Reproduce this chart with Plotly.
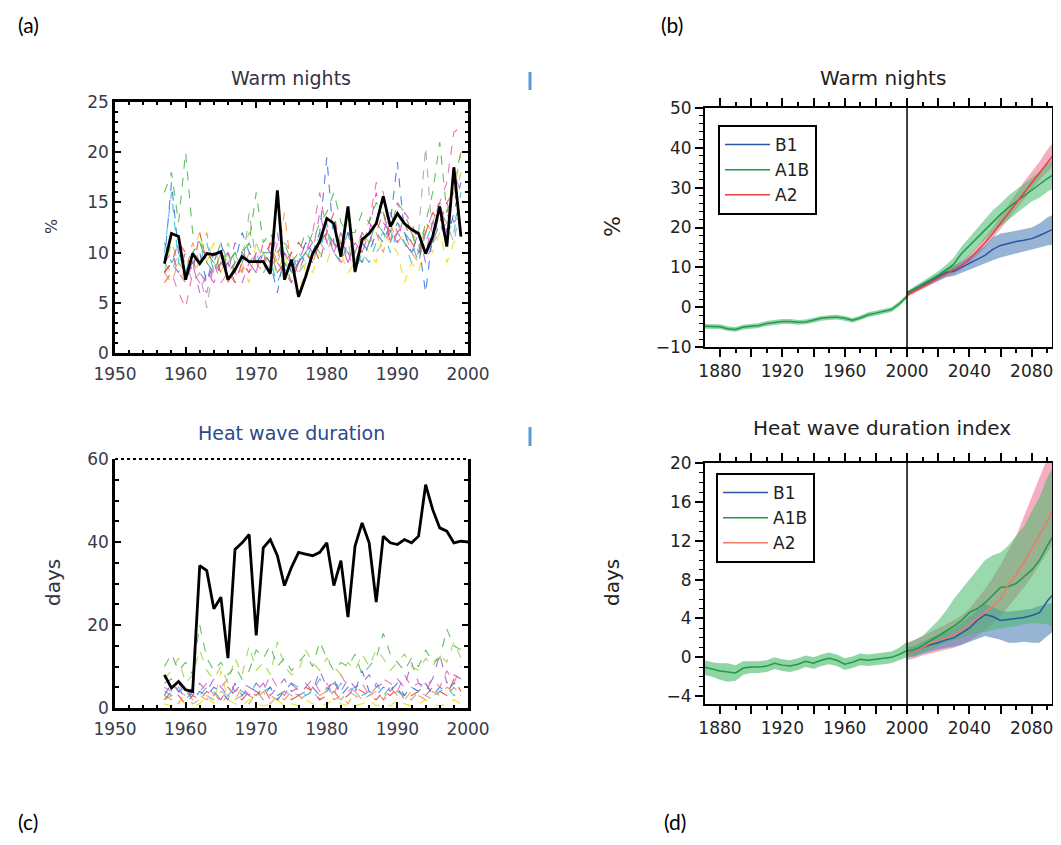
import plotly.graph_objects as go

# ---------------- data ----------------
# Panel (a): Warm nights (%), station series 1957-1999
years_a = list(range(1957, 2000))
warm_obs = [8.9, 11.9, 11.6, 7.3, 9.9, 8.9, 9.9, 9.8, 10.1, 7.3, 8.3, 9.6, 9.1, 9.1, 9.1, 7.9,
            16.2, 7.3, 9.3, 5.6, 7.6, 9.9, 11.1, 13.4, 12.9, 9.6, 14.6, 8.1, 11.3, 11.9, 12.9,
            15.6, 12.6, 13.9, 12.9, 12.3, 11.9, 9.9, 11.6, 14.6, 10.6, 18.5, 11.6]
a_green = [16, 18, 13, 20, 12, 11, 10, 9, 11, 9, 10, 10, 11, 16, 11, 12, 10, 11, 9, 10, 12, 11,
           13, 14, 16, 13, 12, 12, 14, 13, 15, 14, 12, 15, 14, 12, 10, 13, 16, 21, 14, 17, 20]
a_pink = [7, 8, 6, 4.5, 8, 7, 6, 9, 7, 8, 7, 9, 8, 10, 9, 8, 11, 10, 9, 8, 10, 12, 16, 12, 11, 9,
          10, 8, 12, 13, 17, 16, 11, 15, 13, 12, 10, 12, 14, 15, 17, 22, 22.5]
a_orange = [8, 7, 9, 8, 11, 9, 12, 8, 10, 7, 9, 8, 10, 9, 8, 11, 9, 14, 8, 9, 10, 9, 11, 12, 10,
            9, 11, 10, 9, 11, 12, 10, 13, 11, 12, 10, 9, 13, 12, 14, 13, 16, 20]
a_blue = [9, 17, 10, 8, 9, 10, 7, 9, 11, 8, 9, 12, 10, 9, 10, 9, 6, 10, 8, 9, 11, 10, 12, 19.5,
          11, 10, 12, 9, 11, 10, 12, 11, 13, 19, 12, 10, 11, 6, 12, 13, 11, 14, 17]
a_yellow = [7, 8, 9, 7, 10, 12, 9, 11, 8, 10, 8, 9, 7, 11, 10, 9, 8, 10, 7, 5.5, 9, 8, 10, 9, 11,
            10, 8, 9, 11, 10, 9, 12, 11, 10, 7, 9, 8, 11, 10, 12, 9, 11, 12]
a_purple = [8, 9, 8, 10, 9, 8, 7, 10, 9, 8, 11, 10, 9, 8, 10, 9, 12, 8, 10, 9, 10, 11, 9, 12, 10,
            11, 9, 10, 12, 11, 13, 12, 14, 12, 11, 10, 12, 9, 11, 13, 15, 13, 14]
a_cyan = [10, 16, 9, 8, 10, 9, 11, 8, 9, 10, 8, 10, 9, 10, 8, 9, 7, 9, 8, 10, 9, 11, 10, 13, 10,
          9, 11, 8, 10, 9, 11, 12, 10, 12, 11, 9, 10, 11, 13, 12, 14, 12, 16]
a_grey = [9, 8, 10, 9, 7, 8, 4.5, 9, 8, 9, 10, 8, 14, 9, 10, 8, 9, 11, 10, 8, 9, 10, 11, 10, 12,
          11, 10, 9, 11, 12, 10, 11, 12, 13, 11, 10, 12, 20.5, 11, 12, 13, 11, 15]
a_red = [8, 9, 11, 10, 8, 12, 9, 10, 8, 9, 7, 9, 8, 10, 9, 11, 8, 9, 10, 11, 10, 9, 11, 12, 14,
         10, 12, 11, 10, 13, 12, 14, 11, 12, 13, 11, 10, 12, 14, 13, 15, 16, 14]
a_magenta = [9, 10, 8, 7, 9, 6, 8, 7, 9, 10, 8, 7, 9, 8, 11, 10, 9, 8, 7, 9, 11, 10, 14, 11, 10,
             12, 9, 11, 10, 12, 16, 13, 12, 11, 14, 13, 11, 10, 13, 15, 12, 18, 16]
a_teal = [11, 9, 10, 8, 10, 11, 9, 8, 10, 9, 10, 9, 11, 9, 10, 10, 8, 9, 7, 9, 10, 12, 11, 12,
          11, 10, 12, 10, 9, 11, 13, 12, 11, 13, 12, 11, 9, 12, 11, 14, 12, 13, 15]
a_lime = [8, 11, 9, 10, 8, 9, 10, 9, 8, 11, 9, 10, 12, 11, 9, 10, 9, 10, 8, 8, 10, 9, 12, 11, 13,
          11, 10, 10, 12, 11, 13, 13, 12, 14, 13, 12, 11, 12, 13, 15, 14, 15, 18]

# Panel (c): Heat wave duration (days)
years_c = list(range(1957, 2001))
hw_obs = [8.0, 4.8, 6.4, 4.4, 4.0, 34.3, 33.1, 23.9, 26.7, 12.0, 38.2, 39.8, 41.8, 17.5, 38.6,
          40.6, 36.7, 29.5, 33.9, 37.5, 37.1, 36.7, 37.5, 39.8, 29.5, 35.5, 21.9, 39.0, 44.6,
          39.8, 25.5, 41.4, 39.8, 39.4, 40.6, 39.8, 41.4, 53.8, 47.8, 43.4, 42.6, 39.8, 40.2, 40.0]
c_green = [10, 13, 9, 11, 8, 20, 12, 9, 11, 8, 10, 7, 9, 14, 12, 15, 10, 12, 9, 11, 13, 10, 16,
           12, 9, 11, 10, 13, 8, 10, 12, 18, 13, 11, 9, 12, 10, 14, 11, 12, 19, 15, 14]
c_pink = [5, 4, 6, 3, 5, 4, 6, 3, 5, 7, 4, 5, 3, 6, 4, 8, 5, 3, 6, 4, 5, 7, 4, 6, 3, 8, 5, 4, 6,
          3, 5, 7, 6, 4, 8, 5, 6, 4, 7, 5, 9, 6, 10]
c_blue = [3, 6, 4, 5, 2, 4, 3, 5, 4, 2, 6, 3, 5, 4, 3, 5, 2, 4, 6, 3, 4, 5, 3, 4, 7, 3, 5, 4, 9,
          4, 3, 5, 4, 6, 3, 5, 4, 6, 3, 5, 4, 6, 5]
c_orange = [2, 3, 1, 4, 2, 3, 2, 4, 1, 3, 2, 5, 3, 2, 4, 1, 3, 2, 4, 3, 2, 5, 3, 4, 2, 3, 1, 4,
            2, 3, 4, 2, 5, 3, 2, 4, 3, 2, 4, 3, 5, 4, 3]
c_yellow = [1, 0.5, 2, 1, 0.5, 1, 3, 1, 9, 2, 1, 0.5, 2, 1, 0.5, 1, 2, 0.5, 1, 0.5, 2, 1, 0.5,
            1, 2, 1, 0.5, 0.5, 1, 2, 0.5, 1, 0.5, 2, 1, 0.5, 1, 2, 1, 0.5, 1, 2, 1]
c_purple = [6, 7, 4, 5, 3, 6, 4, 7, 5, 3, 4, 6, 5, 4, 6, 3, 5, 7, 4, 5, 6, 4, 9, 5, 6, 4, 7, 5,
            6, 8, 5, 6, 4, 7, 5, 11, 6, 5, 7, 13, 6, 8, 7]
c_cyan = [4, 3, 5, 2, 4, 3, 5, 4, 2, 3, 5, 4, 3, 6, 4, 5, 3, 4, 6, 5, 3, 4, 7, 5, 3, 6, 4, 5, 3,
          4, 6, 3, 5, 4, 3, 5, 4, 6, 3, 4, 5, 3, 4]
c_red = [2, 4, 3, 1, 3, 2, 4, 3, 2, 5, 3, 2, 4, 3, 5, 2, 3, 4, 2, 3, 5, 4, 2, 3, 4, 2, 3, 5, 4,
         3, 2, 4, 3, 5, 2, 3, 4, 3, 5, 4, 3, 7, 4]
c_green2 = [7, 9, 12, 6, 8, 14, 9, 7, 10, 6, 12, 8, 15, 9, 11, 8, 16, 10, 8, 9, 14, 11, 9, 12,
            10, 8, 11, 9, 13, 10, 14, 12, 9, 11, 13, 10, 9, 12, 10, 13, 11, 16, 12]
c_grey = [3, 2, 4, 3, 1, 2, 3, 2, 4, 3, 2, 3, 1, 4, 2, 3, 2, 4, 3, 2, 3, 4, 2, 5, 3, 2, 4, 3, 2,
          3, 4, 2, 3, 4, 3, 2, 4, 3, 2, 4, 3, 5, 3]

# Panels (b) and (d): model simulations
years_hist = list(range(1870, 2001, 5))
years_scen = list(range(2000, 2100, 5))

hist_b = [-4.8, -4.8, -4.9, -5.4, -5.6, -5.0, -4.8, -4.6, -4.1, -3.9, -3.6, -3.6, -3.8, -3.7,
          -3.3, -2.8, -2.6, -2.5, -2.8, -3.3, -2.7, -1.9, -1.5, -1.1, -0.6, 0.8, 2.7]
hist_b_lo = [-5.4, -5.4, -5.5, -6.0, -6.2, -5.6, -5.4, -5.2, -4.7, -4.5, -4.2, -4.2, -4.4, -4.3,
             -3.9, -3.4, -3.2, -3.1, -3.4, -3.9, -3.3, -2.5, -2.1, -1.7, -1.2, 0.2, 2.1]
hist_b_hi = [-4.2, -4.2, -4.3, -4.8, -5.0, -4.4, -4.2, -4.0, -3.5, -3.3, -3.0, -3.0, -3.2, -3.1,
             -2.7, -2.2, -2.0, -1.9, -2.2, -2.7, -2.1, -1.3, -0.9, -0.5, 0.0, 1.4, 3.3]
b1_b = [3.5, 4.5, 5.5, 6.5, 7.5, 8.7, 9.0, 10.0, 11.0, 12.0, 13.0, 14.5, 15.5, 16.0, 16.5, 16.8,
        17.2, 18.0, 19.0, 19.8]
b1_b_lo = [3.0, 4.0, 5.0, 5.8, 6.6, 7.5, 7.8, 8.6, 9.3, 10.2, 11.0, 11.8, 12.5, 13.0, 13.5, 14.0,
           14.5, 15.0, 15.5, 15.8]
b1_b_hi = [4.0, 5.0, 6.0, 7.2, 8.4, 9.8, 10.3, 11.4, 12.7, 14.0, 15.5, 17.5, 18.5, 18.8, 19.2,
           19.6, 20.0, 21.0, 22.5, 23.5]
a1b_b = [3.5, 4.6, 5.7, 6.8, 8.0, 9.3, 10.8, 13.5, 15.5, 17.5, 19.5, 21.5, 23.3, 25.0, 26.5,
         28.0, 29.5, 30.8, 32.3, 33.5]
a1b_b_lo = [3.0, 4.0, 5.0, 6.0, 7.0, 8.0, 9.3, 11.5, 13.0, 15.0, 17.0, 18.8, 20.5, 22.0, 23.5,
            25.0, 26.5, 27.5, 29.0, 30.0]
a1b_b_hi = [4.0, 5.2, 6.4, 7.6, 9.0, 10.6, 12.5, 15.2, 17.5, 19.8, 22.0, 24.3, 26.0, 28.0, 29.5,
            31.0, 32.5, 34.0, 36.0, 37.5]
a2_b = [3.0, 4.0, 5.0, 6.2, 7.3, 8.4, 9.3, 10.5, 12.0, 14.0, 16.2, 18.5, 21.0, 23.5, 26.0, 28.5,
        31.0, 33.5, 36.0, 38.8]
a2_b_lo = [2.5, 3.5, 4.5, 5.6, 6.6, 7.6, 8.4, 9.5, 11.0, 13.0, 15.0, 17.2, 19.5, 22.0, 24.5,
           27.0, 29.5, 32.0, 34.0, 36.0]
a2_b_hi = [3.5, 4.5, 5.6, 6.8, 8.0, 9.2, 10.2, 11.6, 13.2, 15.2, 17.6, 20.0, 22.8, 25.5, 28.5,
           31.5, 34.0, 36.5, 39.5, 42.0]

hist_d = [-1.0, -1.2, -1.4, -1.5, -1.6, -1.1, -1.0, -1.0, -0.9, -0.6, -0.8, -0.9, -0.7, -0.4,
          -0.6, -0.3, -0.1, -0.3, -0.7, -0.5, -0.2, -0.3, -0.2, -0.1, 0.0, 0.3, 0.7]
hist_d_lo = [-1.8, -2.0, -2.3, -2.5, -2.4, -1.8, -1.6, -1.6, -1.5, -1.2, -1.4, -1.5, -1.3, -1.0,
             -1.2, -0.9, -0.7, -0.9, -1.3, -1.1, -0.8, -0.9, -0.8, -0.7, -0.6, -0.3, 0.0]
hist_d_hi = [-0.3, -0.5, -0.6, -0.6, -0.8, -0.4, -0.4, -0.4, -0.3, 0.0, -0.2, -0.3, -0.1, 0.2,
             0.0, 0.3, 0.5, 0.3, -0.1, 0.1, 0.4, 0.3, 0.4, 0.5, 0.6, 1.0, 1.6]
b1_d = [0.5, 0.6, 1.0, 1.3, 1.5, 1.8, 2.0, 2.5, 3.0, 3.8, 4.4, 4.2, 3.8, 3.9, 4.0, 4.1, 4.3, 4.6,
        5.8, 6.7]
b1_d_lo = [0.0, 0.1, 0.4, 0.6, 0.8, 1.0, 1.1, 1.3, 1.6, 1.9, 2.2, 2.0, 1.8, 1.5, 1.5, 1.6, 1.5,
           1.5, 2.2, 2.8]
b1_d_hi = [1.0, 1.2, 1.6, 2.0, 2.3, 2.6, 3.0, 3.5, 4.2, 4.8, 5.5, 5.2, 4.8, 4.7, 4.8, 4.9, 5.0,
           5.3, 5.5, 5.6]
a1b_d = [0.6, 0.8, 1.2, 1.7, 2.2, 2.7, 3.2, 3.8, 4.6, 5.0, 5.6, 6.4, 7.2, 7.3, 7.6, 8.3, 9.0,
         10.0, 11.5, 12.8]
a1b_d_lo = [0.0, 0.2, 0.5, 0.8, 1.2, 1.5, 1.8, 2.0, 2.3, 2.5, 2.6, 2.8, 3.0, 3.1, 3.2, 3.4, 3.5,
            3.5, 3.4, 3.0]
a1b_d_hi = [1.4, 1.8, 2.2, 3.0, 3.8, 4.8, 6.0, 7.0, 8.0, 9.0, 10.0, 10.5, 10.8, 11.5, 12.5, 13.5,
            15.0, 16.5, 18.5, 20.0]
a2_d = [0.5, 0.6, 1.0, 1.5, 1.8, 2.0, 2.3, 2.8, 3.4, 4.0, 4.6, 5.3, 6.0, 7.5, 8.5, 9.8, 11.2,
        12.5, 14.0, 15.7]
a2_d_lo = [-0.3, -0.1, 0.2, 0.4, 0.6, 0.8, 1.0, 1.3, 1.7, 2.2, 2.8, 3.5, 4.2, 5.2, 6.2, 7.2, 8.3,
           9.5, 10.8, 12.0]
a2_d_hi = [1.5, 1.8, 2.2, 2.6, 3.0, 3.4, 3.8, 4.3, 5.0, 6.0, 7.0, 8.2, 9.5, 11.0, 12.5, 14.5,
           16.5, 18.5, 20.5, 21.5]

scenario_names = ["B1", "A1B", "A2"]

# ---------------- styling ----------------
# the page body has an 8 px margin on every side: the figure is sized to fit inside it
OFF = 8
W, H = 1061 - 2 * OFF, 845 - 2 * OFF


def px(x):
    return (x - OFF) / W


def py(y):
    return 1 - (y - OFF) / H


FONT = "DejaVu Sans"
station_colors = {
    "green": "rgba(70,180,70,0.85)", "pink": "rgba(240,90,170,0.85)",
    "orange": "rgba(250,140,50,0.85)", "blue": "rgba(50,110,220,0.85)",
    "yellow": "rgba(240,220,20,0.9)", "purple": "rgba(150,90,200,0.85)",
    "cyan": "rgba(30,190,220,0.85)", "grey": "rgba(160,160,160,0.85)",
    "red": "rgba(230,60,60,0.85)", "magenta": "rgba(220,60,200,0.8)",
    "teal": "rgba(40,160,150,0.8)", "lime": "rgba(150,210,60,0.85)",
}

fig = go.Figure()

stations_a = [("grey", a_grey), ("yellow", a_yellow), ("orange", a_orange), ("cyan", a_cyan),
              ("teal", a_teal), ("lime", a_lime), ("purple", a_purple), ("red", a_red),
              ("magenta", a_magenta), ("blue", a_blue), ("pink", a_pink), ("green", a_green)]
for cname, vals in stations_a:
    fig.add_trace(go.Scatter(x=years_a, y=vals, mode="lines", xaxis="x", yaxis="y",
                             line=dict(color=station_colors[cname], width=1.1, dash="dash"),
                             showlegend=False, hoverinfo="skip"))
fig.add_trace(go.Scatter(x=years_a, y=warm_obs, mode="lines", xaxis="x", yaxis="y",
                         line=dict(color="black", width=2.8), showlegend=False))

stations_c = [("grey", c_grey), ("red", c_red), ("orange", c_orange), ("yellow", c_yellow),
              ("cyan", c_cyan), ("blue", c_blue), ("purple", c_purple), ("pink", c_pink),
              ("lime", c_green2), ("green", c_green)]
for cname, vals in stations_c:
    fig.add_trace(go.Scatter(x=years_a, y=vals, mode="lines", xaxis="x3", yaxis="y3",
                             line=dict(color=station_colors[cname], width=1.1, dash="dash"),
                             showlegend=False, hoverinfo="skip"))
fig.add_trace(go.Scatter(x=years_c, y=hw_obs, mode="lines", xaxis="x3", yaxis="y3",
                         line=dict(color="black", width=2.8), showlegend=False))

band_fill = {"B1": "rgba(95,140,190,0.65)", "A1B": "rgba(70,185,105,0.55)",
             "A2": "rgba(240,130,160,0.65)"}
line_col = {"B1": "#2d55a8", "A1B": "#1f9a48", "A2": "#e8423c"}


def add_band(xs, lo, hi, fill, xa, ya):
    fig.add_trace(go.Scatter(x=xs + xs[::-1], y=hi + lo[::-1], mode="lines", fill="toself",
                             fillcolor=fill, line=dict(width=0), xaxis=xa, yaxis=ya,
                             showlegend=False, hoverinfo="skip"))


# panel (b)
add_band(years_hist, hist_b_lo, hist_b_hi, "rgba(70,185,105,0.6)", "x2", "y2")
add_band(years_scen, a2_b_lo, a2_b_hi, band_fill["A2"], "x2", "y2")
add_band(years_scen, b1_b_lo, b1_b_hi, band_fill["B1"], "x2", "y2")
add_band(years_scen, a1b_b_lo, a1b_b_hi, band_fill["A1B"], "x2", "y2")
fig.add_trace(go.Scatter(x=years_hist, y=hist_b, mode="lines", xaxis="x2", yaxis="y2",
                         line=dict(color=line_col["A1B"], width=1.5), showlegend=False))
for nm, vals in zip(scenario_names, [b1_b, a1b_b, a2_b]):
    fig.add_trace(go.Scatter(x=years_scen, y=vals, mode="lines", name=nm, xaxis="x2", yaxis="y2",
                             line=dict(color=line_col[nm], width=1.5), legend="legend"))

# panel (d)
add_band(years_hist, hist_d_lo, hist_d_hi, "rgba(70,185,105,0.6)", "x4", "y4")
add_band(years_scen, a2_d_lo, a2_d_hi, band_fill["A2"], "x4", "y4")
add_band(years_scen, b1_d_lo, b1_d_hi, band_fill["B1"], "x4", "y4")
add_band(years_scen, a1b_d_lo, a1b_d_hi, band_fill["A1B"], "x4", "y4")
fig.add_trace(go.Scatter(x=years_hist, y=hist_d, mode="lines", xaxis="x4", yaxis="y4",
                         line=dict(color=line_col["A1B"], width=1.5), showlegend=False))
d_line_col = {"B1": "#2d55a8", "A1B": "#1f9a48", "A2": "#f07a66"}
for nm, vals in zip(scenario_names, [b1_d, a1b_d, a2_d]):
    fig.add_trace(go.Scatter(x=years_scen, y=vals, mode="lines", name=nm, xaxis="x4", yaxis="y4",
                             line=dict(color=d_line_col[nm], width=1.5),
                             legend="legend2"))

# ---------------- axes ----------------
left_tickfont = dict(family=FONT, size=17, color="#3a3a48")
right_tickfont = dict(family=FONT, size=17, color="#222222")


def left_x(domain, anchor, mirror=True):
    return dict(domain=domain, anchor=anchor, range=[1950, 2000], tick0=1950, dtick=10,
                ticks="inside", ticklen=6, tickwidth=2, tickcolor="black",
                showline=True, linewidth=2.5, linecolor="black",
                mirror="allticks" if mirror else False, automargin=False,
                minor=dict(ticks="inside", ticklen=3, dtick=2, tickwidth=1.5, tickcolor="black"),
                showgrid=False, zeroline=False, tickfont=left_tickfont, ticklabelstandoff=4)


def right_x(domain, anchor):
    return dict(domain=domain, anchor=anchor, range=[1870.4, 2093.0],
                tickvals=list(range(1880, 2100, 20)),
                ticktext=["1880", "", "1920", "", "1960", "", "2000", "", "2040", "", "2080"],
                ticks="outside", ticklen=8, tickwidth=1.5, tickcolor="black",
                showline=True, linewidth=2, linecolor="black", mirror="allticks",
                automargin=False, ticklabeloverflow="allow",
                minor=dict(ticks="outside", ticklen=4, dtick=10, tickwidth=1.5,
                           tickcolor="black"),
                showgrid=False, zeroline=False, tickfont=right_tickfont)


legend_style = dict(xanchor="left", yanchor="top", bgcolor="white", bordercolor="black",
                    borderwidth=2, tracegroupgap=0, itemwidth=45,
                    font=dict(family=FONT, size=17, color="#222222"))

fig.update_layout(
    template="none",
    width=W, height=H, margin=dict(l=0, r=0, t=0, b=0, pad=0), autosize=False,
    paper_bgcolor="white", plot_bgcolor="white",
    xaxis=left_x([px(115), px(468)], "y"),
    yaxis=dict(domain=[py(353), py(102)], anchor="x", range=[0, 25], dtick=5,
               ticks="inside", ticklen=6, tickwidth=2, tickcolor="black",
               showline=True, linewidth=2.5, linecolor="black", mirror="allticks",
               automargin=False,
               minor=dict(ticks="inside", ticklen=3, dtick=1, tickwidth=1.5, tickcolor="black"),
               showgrid=False, zeroline=False, tickfont=left_tickfont),
    xaxis3=left_x([px(115), px(468)], "y3", mirror=False),
    yaxis3=dict(domain=[py(708), py(459)], anchor="x3", range=[0, 60], dtick=20,
                ticks="inside", ticklen=6, tickwidth=2, tickcolor="black",
                showline=True, linewidth=2.5, linecolor="black", mirror="allticks",
                automargin=False,
                minor=dict(ticks="inside", ticklen=4, dtick=5, tickwidth=1.5, tickcolor="black"),
                showgrid=False, zeroline=False, tickfont=left_tickfont),
    xaxis2=right_x([px(705), px(1052)], "y2"),
    yaxis2=dict(domain=[py(347), py(108)], anchor="x2", range=[-10, 50], dtick=10,
                ticks="outside", ticklen=8, tickwidth=1.5, tickcolor="black",
                showline=True, linewidth=2, linecolor="black", mirror="allticks",
                automargin=False,
                minor=dict(ticks="outside", ticklen=4, dtick=2, tickwidth=1.2,
                           tickcolor="black"),
                showgrid=False, zeroline=False, tickfont=right_tickfont),
    xaxis4=right_x([px(705), px(1052)], "y4"),
    yaxis4=dict(domain=[py(704), py(463)], anchor="x4", range=[-4.8, 20], tick0=0, dtick=4,
                ticks="outside", ticklen=8, tickwidth=1.5, tickcolor="black",
                showline=True, linewidth=2, linecolor="black", mirror="allticks",
                automargin=False,
                minor=dict(ticks="outside", ticklen=4, dtick=1, tickwidth=1.2,
                           tickcolor="black"),
                showgrid=False, zeroline=False, tickfont=right_tickfont),
    legend=dict(x=px(718), y=py(125), **legend_style),
    legend2=dict(x=px(716), y=py(473), **legend_style),
)

# ---------------- shapes ----------------
shapes = [
    dict(type="line", xref="x2", yref="y2 domain", x0=2000, x1=2000, y0=0, y1=1,
         line=dict(color="black", width=1.5)),
    dict(type="line", xref="x4", yref="y4 domain", x0=2000, x1=2000, y0=0, y1=1,
         line=dict(color="black", width=1.5)),
    dict(type="line", xref="x3 domain", yref="y3 domain", x0=0, x1=1, y0=1, y1=1,
         line=dict(color="black", width=2, dash="dot")),
    dict(type="line", xref="paper", yref="paper", x0=px(530), x1=px(530), y0=py(72), y1=py(90),
         line=dict(color="#5a9ad8", width=3)),
    dict(type="line", xref="paper", yref="paper", x0=px(530), x1=px(530), y0=py(427),
         y1=py(446), line=dict(color="#5a9ad8", width=3)),
]
fig.update_layout(shapes=shapes)


# ---------------- annotations ----------------
def ann(text, x, y, size, color="#222222", family=FONT, angle=0):
    return dict(text=text, x=px(x), y=py(y), xref="paper", yref="paper", showarrow=False,
                xanchor="center", yanchor="middle", textangle=angle,
                font=dict(family=family, size=size, color=color))


annotations = [
    ann("Warm nights", 291, 78, 19, "#333340"),
    ann("Heat wave duration", 291, 433, 19, "#2a4a8a"),
    ann("Warm nights", 883, 78, 20),
    ann("Heat wave duration index", 882, 428, 20),
    ann("%", 52, 227, 16, "#333340", angle=-90),
    ann("days", 53, 583, 20, "#333340", angle=-90),
    ann("%", 613, 227, 22, angle=-90),
    ann("days", 612, 583, 20, angle=-90),
    ann("(a)", 28, 24, 21, "black", "Lato"),
    ann("(b)", 672, 24, 21, "black", "Lato"),
    ann("(c)", 28, 821, 21, "black", "Lato"),
    ann("(d)", 675, 821, 21, "black", "Lato"),
]
fig.update_layout(annotations=annotations)

fig.write_html("out.html")
